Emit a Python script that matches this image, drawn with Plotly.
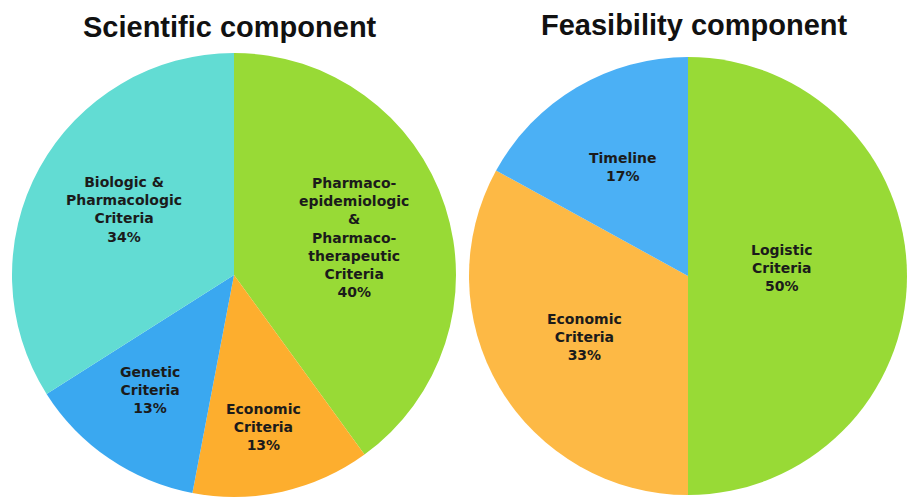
import numpy as np
import plotly.graph_objects as go

# ---- data -------------------------------------------------------------
sci_labels = [
    "Pharmaco-<br>epidemiologic<br>&<br>Pharmaco-<br>therapeutic<br>Criteria",
    "Economic<br>Criteria",
    "Genetic<br>Criteria",
    "Biologic &<br>Pharmacologic<br>Criteria",
]
sci_values = [40, 13, 13, 34]

feas_labels = [
    "Logistic<br>Criteria",
    "Economic<br>Criteria",
    "Timeline",
]
feas_values = [50, 33, 17]

titles = ["Scientific component", "Feasibility component"]

# ---- style ------------------------------------------------------------
W, H = 907, 503
sci_colors = ["#98DA36", "#FDAE2E", "#3AA8F0", "#62DCD3"]
feas_colors = ["#98DA36", "#FDB945", "#4BB0F5"]

# pie domains (paper coordinates)
sci_domain = dict(x=[12 / W, 456 / W], y=[1 - 497 / H, 1 - 53 / H])
feas_domain = dict(x=[469 / W, 1.0], y=[1 - 495 / H, 1 - 57 / H])

# label placement: fraction of radius and small angular nudge (degrees)
sci_label_r = [0.565, 0.70, 0.64, 0.575]
sci_label_da = [0.5, 1.5, 2.0, 2.0]
feas_label_r = [0.43, 0.55, 0.58]
feas_label_da = [-5.0, 0.0, 0.0]

label_font = dict(family="DejaVu Sans", size=14, color="#1b1b1b")
title_font = dict(family="Liberation Sans", size=29, color="#111111")

fig = go.Figure()


def add_pie(labels, values, colors, domain):
    fig.add_trace(go.Pie(
        labels=[l.replace("<br>", " ") for l in labels],
        values=values,
        marker=dict(colors=colors, line=dict(width=0)),
        domain=domain,
        sort=False,
        direction="clockwise",
        rotation=0,
        textinfo="none",
        hoverinfo="label+percent",
        showlegend=False,
    ))


def add_labels(labels, values, domain, r_frac, d_ang):
    # pie geometry in pixels from its domain
    x0, x1 = domain["x"][0] * W, domain["x"][1] * W
    y0, y1 = (1 - domain["y"][1]) * H, (1 - domain["y"][0]) * H
    cx, cy = (x0 + x1) / 2, (y0 + y1) / 2
    rad = min(x1 - x0, y1 - y0) / 2
    total = float(sum(values))
    start = 0.0
    for lab, v, rf, da in zip(labels, values, r_frac, d_ang):
        span = 360.0 * v / total
        mid = np.deg2rad(start + span / 2 + da)
        px = cx + rf * rad * np.sin(mid)
        py = cy - rf * rad * np.cos(mid)
        pct = round(100 * v / total)
        fig.add_annotation(
            x=px / W, y=1 - py / H, xref="paper", yref="paper",
            text=f"<b>{lab}<br>{pct}%</b>", showarrow=False,
            font=label_font, align="center",
            xanchor="center", yanchor="middle",
        )
        start += span


add_pie(sci_labels, sci_values, sci_colors, sci_domain)
add_pie(feas_labels, feas_values, feas_colors, feas_domain)
add_labels(sci_labels, sci_values, sci_domain, sci_label_r, sci_label_da)
add_labels(feas_labels, feas_values, feas_domain, feas_label_r, feas_label_da)

# chart titles above each pie
for t, xc, yc in zip(titles, [230, 694], [27, 25]):
    fig.add_annotation(
        x=xc / W, y=1 - yc / H, xref="paper", yref="paper",
        text=f"<b>{t}</b>", showarrow=False, font=title_font,
        xanchor="center", yanchor="middle",
    )

fig.update_layout(
    width=W, height=H,
    margin=dict(l=0, r=0, t=0, b=0),
    paper_bgcolor="white",
    plot_bgcolor="white",
)

fig.write_html("out.html")
